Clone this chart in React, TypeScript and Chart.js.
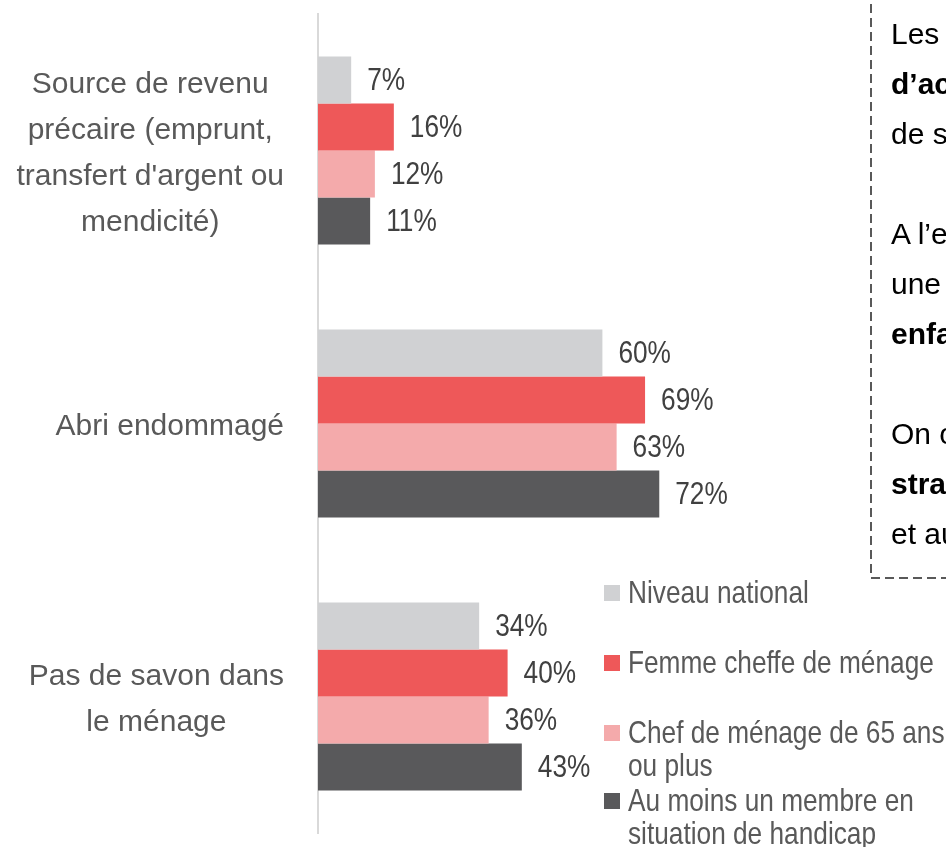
import React, { useEffect, useRef } from "react";
import { Chart, registerables } from "chart.js";

Chart.register(...registerables);

const categories: string[][] = [
  ["Source de revenu", "précaire (emprunt,", "transfert d'argent ou", "mendicité)"],
  ["Abri endommagé"],
  ["Pas de savon dans", "le ménage"],
];

const seriesNames = [
  "Niveau national",
  "Femme cheffe de ménage",
  "Chef de ménage de 65 ans ou plus",
  "Au moins un membre en situation de handicap",
];
const nationalValues = [7, 60, 34];
const femaleHeadValues = [16, 69, 40];
const seniorHeadValues = [12, 63, 36];
const disabilityValues = [11, 72, 43];
const seriesColors = ["#D0D1D3", "#EE5859", "#F4AAAB", "#59595B"];

const boxLines: { text: string; bold?: boolean }[] = [
  { text: "Les ménages vulnérables ont moins" },
  { text: "d’accès aux moyens", bold: true },
  { text: "de subsistance" },
  { text: "" },
  { text: "A l’exception des ménages avec" },
  { text: "une personne âgée ou des" },
  { text: "enfants", bold: true },
  { text: "" },
  { text: "On observe un recours aux" },
  { text: "stratégies d’adaptation négatives", bold: true },
  { text: "et au travail des enfants" },
];

const REGULAR = "'Liberation Sans', Arial, sans-serif";
const NARROW_SCALE = 0.82;

const valueLabels = {
  id: "valueLabels",
  afterDatasetsDraw(chart: any) {
    const ctx = chart.ctx;
    chart.data.datasets.forEach((ds: any, i: number) => {
      const meta = chart.getDatasetMeta(i);
      meta.data.forEach((el: any, j: number) => {
        ctx.save();
        ctx.font = `32px ${REGULAR}`;
        ctx.fillStyle = "#404040";
        ctx.textAlign = "left";
        ctx.textBaseline = "middle";
        ctx.translate(el.x + 16, el.y + 1);
        ctx.scale(NARROW_SCALE, 1);
        ctx.fillText(`${ds.data[j]}%`, 0, 0);
        ctx.restore();
      });
    });
  },
};

// Category labels: block right-aligned to the axis, lines centred within the block
const categoryLabels = {
  id: "categoryLabels",
  afterDraw(chart: any) {
    const ctx = chart.ctx;
    const scale = chart.scales.y;
    const lineH = 46;
    const rightEdge = scale.right - 34;
    ctx.save();
    ctx.font = `30px ${REGULAR}`;
    ctx.fillStyle = "#595959";
    ctx.textAlign = "center";
    ctx.textBaseline = "middle";
    (chart.data.labels as string[][]).forEach((lines, i) => {
      const widest = Math.max(...lines.map((l) => ctx.measureText(l).width));
      const cx = rightEdge - widest / 2;
      const cy = scale.getPixelForTick(i) + 3;
      const top = cy - ((lines.length - 1) * lineH) / 2;
      lines.forEach((l, k) => ctx.fillText(l, cx, top + k * lineH));
    });
    ctx.restore();
  },
};

export default function App() {
  const ref = useRef<HTMLCanvasElement>(null);
  useEffect(() => {
    const seriesValues = [nationalValues, femaleHeadValues, seniorHeadValues, disabilityValues];
    const chart = new Chart(ref.current!, {
      type: "bar",
      data: {
        labels: categories as any,
        datasets: seriesNames.map((name, i) => ({
          label: name,
          data: seriesValues[i],
          backgroundColor: seriesColors[i],
          borderWidth: 0,
          barPercentage: 1,
          categoryPercentage: 0.689,
        })),
      },
      options: {
        indexAxis: "y",
        responsive: false,
        maintainAspectRatio: false,
        animation: false,
        layout: { padding: { top: 14, bottom: 14, left: 0, right: 154 } },
        plugins: { legend: { display: false }, tooltip: { enabled: false } },
        scales: {
          x: { display: false, min: 0, max: 100 },
          y: {
            afterFit: (s: any) => {
              s.width = 318;
              s.paddingTop = 0;
              s.paddingBottom = 0;
            },
            grid: { display: false, drawTicks: false },
            border: { display: true, color: "#D9D9D9", width: 2 },
            ticks: { display: false },
          },
        },
      },
      plugins: [valueLabels, categoryLabels],
    });
    return () => chart.destroy();
  }, []);

  const legendTops = [592, 662, 732, 800];

  return (
    <div
      style={{
        position: "fixed",
        left: 0,
        top: 0,
        width: 946,
        height: 847,
        overflow: "hidden",
        background: "#fff",
      }}
    >
      <canvas ref={ref} width={946} height={847} style={{ position: "absolute", left: 0, top: 0 }} />
      <svg style={{ position: "absolute", left: 0, top: 0 }} width={946} height={847}>
        <path d="M871 -10 L871 578 L960 578" fill="none" stroke="#595959" strokeWidth={2} strokeDasharray="9 5" />
      </svg>
      <div style={{ position: "absolute", left: 891, top: 34 - 25, width: 600, whiteSpace: "nowrap" }}>
        {boxLines.map((l, i) => (
          <div
            key={i}
            style={{
              height: 50,
              lineHeight: "50px",
              fontFamily: REGULAR,
              fontSize: 30,
              fontWeight: l.bold ? "bold" : "normal",
              color: "#000",
            }}
          >
            {l.text}
          </div>
        ))}
      </div>
      {seriesNames.map((name, i) => (
        <div key={name}>
          <div
            style={{
              position: "absolute",
              left: 604,
              top: legendTops[i] - 7,
              width: 16,
              height: 16,
              background: seriesColors[i],
            }}
          />
          <div
            style={{
              position: "absolute",
              left: 628,
              top: legendTops[i] - 16,
              width: 322 / NARROW_SCALE,
              transform: `scaleX(${NARROW_SCALE})`,
              transformOrigin: "0 0",
              fontFamily: REGULAR,
              fontSize: 32,
              lineHeight: "33px",
              color: "#595959",
            }}
          >
            {name}
          </div>
        </div>
      ))}
    </div>
  );
}
